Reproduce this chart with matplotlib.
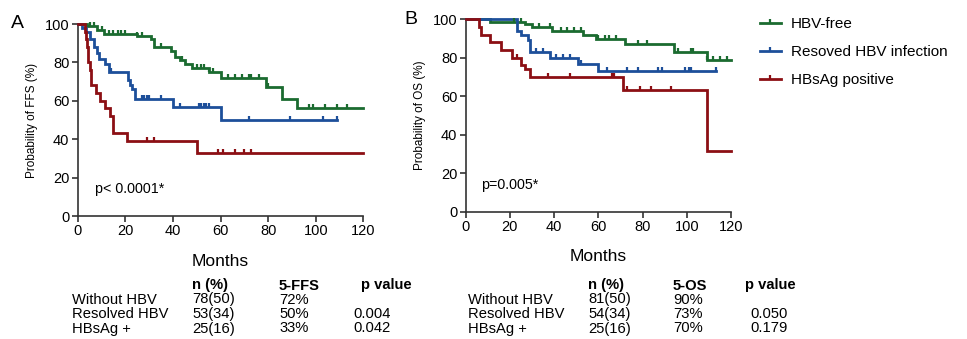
import numpy as np
import matplotlib
matplotlib.use("Agg")
import matplotlib.pyplot as plt
from matplotlib.lines import Line2D

plt.rcParams['font.family'] = ['Liberation Sans', 'DejaVu Sans']

# ---------------- Data ----------------
groups = ["HBV-free", "Resoved HBV infection", "HBsAg positive"]
colors = ["#1b6b30", "#1d4f9a", "#8c0f14"]

# Panel A: FFS
ffs_free_t = [0, 4, 8, 11, 25, 31, 32, 39, 41, 43, 45, 48, 55, 60, 79, 86, 92, 120]
ffs_free_s = [100, 99, 97, 95, 94, 92, 88, 86, 83, 81, 79, 77, 75, 72, 67, 61, 56, 56]
ffs_free_c = [5, 7, 10, 13, 15, 17, 18, 20, 25, 27, 35, 44, 50, 52, 53, 55, 57, 63, 66, 69, 72, 73, 76, 80, 97, 99, 104, 109, 113]

ffs_res_t = [0, 2, 3.5, 5, 7, 8, 9, 11.5, 13, 21, 22, 23, 24, 40, 60, 109]
ffs_res_s = [100, 98, 96, 92, 88, 85, 82, 79, 75, 71, 68, 66, 61, 57, 50, 50]
ffs_res_c = [14, 27, 28, 29, 30, 35, 43, 51, 52, 53, 54, 55, 72, 89, 103, 109]

ffs_pos_t = [0, 3, 3.5, 4, 4.5, 5, 5.5, 7.7, 9.4, 11.6, 13.6, 15, 20.6, 50, 120]
ffs_pos_s = [100, 96, 92, 88, 80, 76, 68, 64, 60, 56, 52, 43, 39, 33, 33]
ffs_pos_c = [29, 32, 59, 61, 66, 70, 73]

# Panel B: OS
os_free_t = [0, 11, 27, 30, 39, 53, 59, 72, 94, 109, 120]
os_free_s = [100, 98.8, 97.5, 96, 94, 92, 90, 87, 83, 79, 79]
os_free_c = [22, 25, 33, 38, 43, 46, 49, 52, 60, 63, 65, 68, 78, 82, 96, 102, 103, 109, 112, 115, 118]

os_res_t = [0, 23, 25, 28, 29, 38, 51, 60, 113]
os_res_s = [100, 94, 92, 89, 83, 80, 77, 73, 73]
os_res_c = [32, 35, 41, 44, 47, 52, 64, 73, 78, 87, 89, 99, 101, 102, 113]

os_pos_t = [0, 6, 7, 11, 16, 21, 25, 27, 29, 71, 109, 120]
os_pos_s = [100, 96, 92, 88, 84, 80, 76, 74, 70, 63.5, 31.5, 31.5]
os_pos_c = [23, 37, 47, 66, 67, 73, 79, 84, 93]

# Tables
row_labels = ["Without HBV", "Resolved HBV", "HBsAg +"]
ffs_n = ["78(50)", "53(34)", "25(16)"]
ffs_5y = ["72%", "50%", "33%"]
ffs_p = ["", "0.004", "0.042"]
os_n = ["81(50)", "54(34)", "25(16)"]
os_5y = ["90%", "73%", "70%"]
os_p = ["", "0.050", "0.179"]

yticks = [0, 20, 40, 60, 80, 100]
xticks = [0, 20, 40, 60, 80, 100, 120]

# ---------------- Figure ----------------
W, H = 967, 339
fig = plt.figure(figsize=(W / 100, H / 100), dpi=100)


def fx(px):
    return px / W


def fy(py):
    return 1 - py / H


axA = fig.add_axes([fx(77.7), fy(216), fx(363.3 - 77.7), (216 - 24) / H])
axB = fig.add_axes([fx(465.7), fy(211.7), fx(731 - 465.7), (211.7 - 19.3) / H])


def step_val(t, s, x):
    t = np.asarray(t)
    idx = np.searchsorted(t, x, side='right') - 1
    return np.asarray(s)[idx]


def draw_km(ax, t, s, c, col):
    ax.step(t, s, where='post', color=col, lw=2.0, clip_on=False, zorder=3,
            solid_joinstyle='miter')
    cy = step_val(t, s, c)
    ax.plot(c, cy, linestyle='none', marker=2, markersize=3, mew=1.6,
            color=col, clip_on=False, zorder=4)


def style(ax, ylabel):
    ax.set_xlim(0, 120)
    ax.set_ylim(0, 100)
    ax.set_xticks(xticks)
    ax.set_yticks(yticks)
    for sp in ['top', 'right']:
        ax.spines[sp].set_visible(False)
    for sp in ['left', 'bottom']:
        ax.spines[sp].set_linewidth(1.2)
        ax.spines[sp].set_color('#333333')
    ax.tick_params(direction='out', length=4, width=1.2, color='#333333',
                   labelsize=10.5, pad=2)
    ax.set_xlabel("Months", fontsize=12.5, labelpad=11)
    ax.set_ylabel(ylabel, fontsize=8.5, labelpad=5)


draw_km(axA, ffs_free_t, ffs_free_s, ffs_free_c, colors[0])
draw_km(axA, ffs_res_t, ffs_res_s, ffs_res_c, colors[1])
draw_km(axA, ffs_pos_t, ffs_pos_s, ffs_pos_c, colors[2])
style(axA, "Probability of FFS (%)")
axA.text(7.3, 14, "p< 0.0001*", fontsize=10.3, va='center', ha='left')

draw_km(axB, os_free_t, os_free_s, os_free_c, colors[0])
draw_km(axB, os_res_t, os_res_s, os_res_c, colors[1])
draw_km(axB, os_pos_t, os_pos_s, os_pos_c, colors[2])
style(axB, "Probability of OS (%)")
axB.text(7, 14, "p=0.005*", fontsize=10.3, va='center', ha='left')

fig.text(fx(11), fy(23), "A", fontsize=14, va='center', ha='left')
fig.text(fx(404), fy(20), "B", fontsize=14, va='center', ha='left')

handles = [Line2D([0], [0], color=c, lw=2.0, marker=2, markersize=3, mew=1.6)
           for c in colors]
fig.legend(handles, groups, loc='upper left',
           bbox_to_anchor=(fx(760), fy(17)), frameon=False, fontsize=11,
           handlelength=1.35, handletextpad=0.65, labelspacing=0.93,
           numpoints=1, borderaxespad=0, borderpad=0)


# Tables
def table(x_lab, x_n, x_5, x_ph, x_p, head5, n, v5, pv):
    y_head = 289.5
    rows_y = [303.5, 318, 332.5]
    fs = 10.6
    kw = dict(fontsize=fs, va='baseline')
    fig.text(fx(x_n), fy(y_head), "n (%)", weight='bold', **kw)
    fig.text(fx(x_5), fy(y_head), head5, weight='bold', **kw)
    fig.text(fx(x_ph), fy(y_head), "p value", weight='bold', **kw)
    for i, y in enumerate(rows_y):
        fig.text(fx(x_lab), fy(y), row_labels[i], **kw)
        fig.text(fx(x_n), fy(y), n[i], **kw)
        fig.text(fx(x_5), fy(y), v5[i], **kw)
        fig.text(fx(x_p), fy(y), pv[i], **kw)


table(72.5, 192.5, 279, 361, 353, "5-FFS", ffs_n, ffs_5y, ffs_p)
table(468.5, 588, 673, 745, 750, "5-OS", os_n, os_5y, os_p)

fig.savefig("out.png", dpi=100)
